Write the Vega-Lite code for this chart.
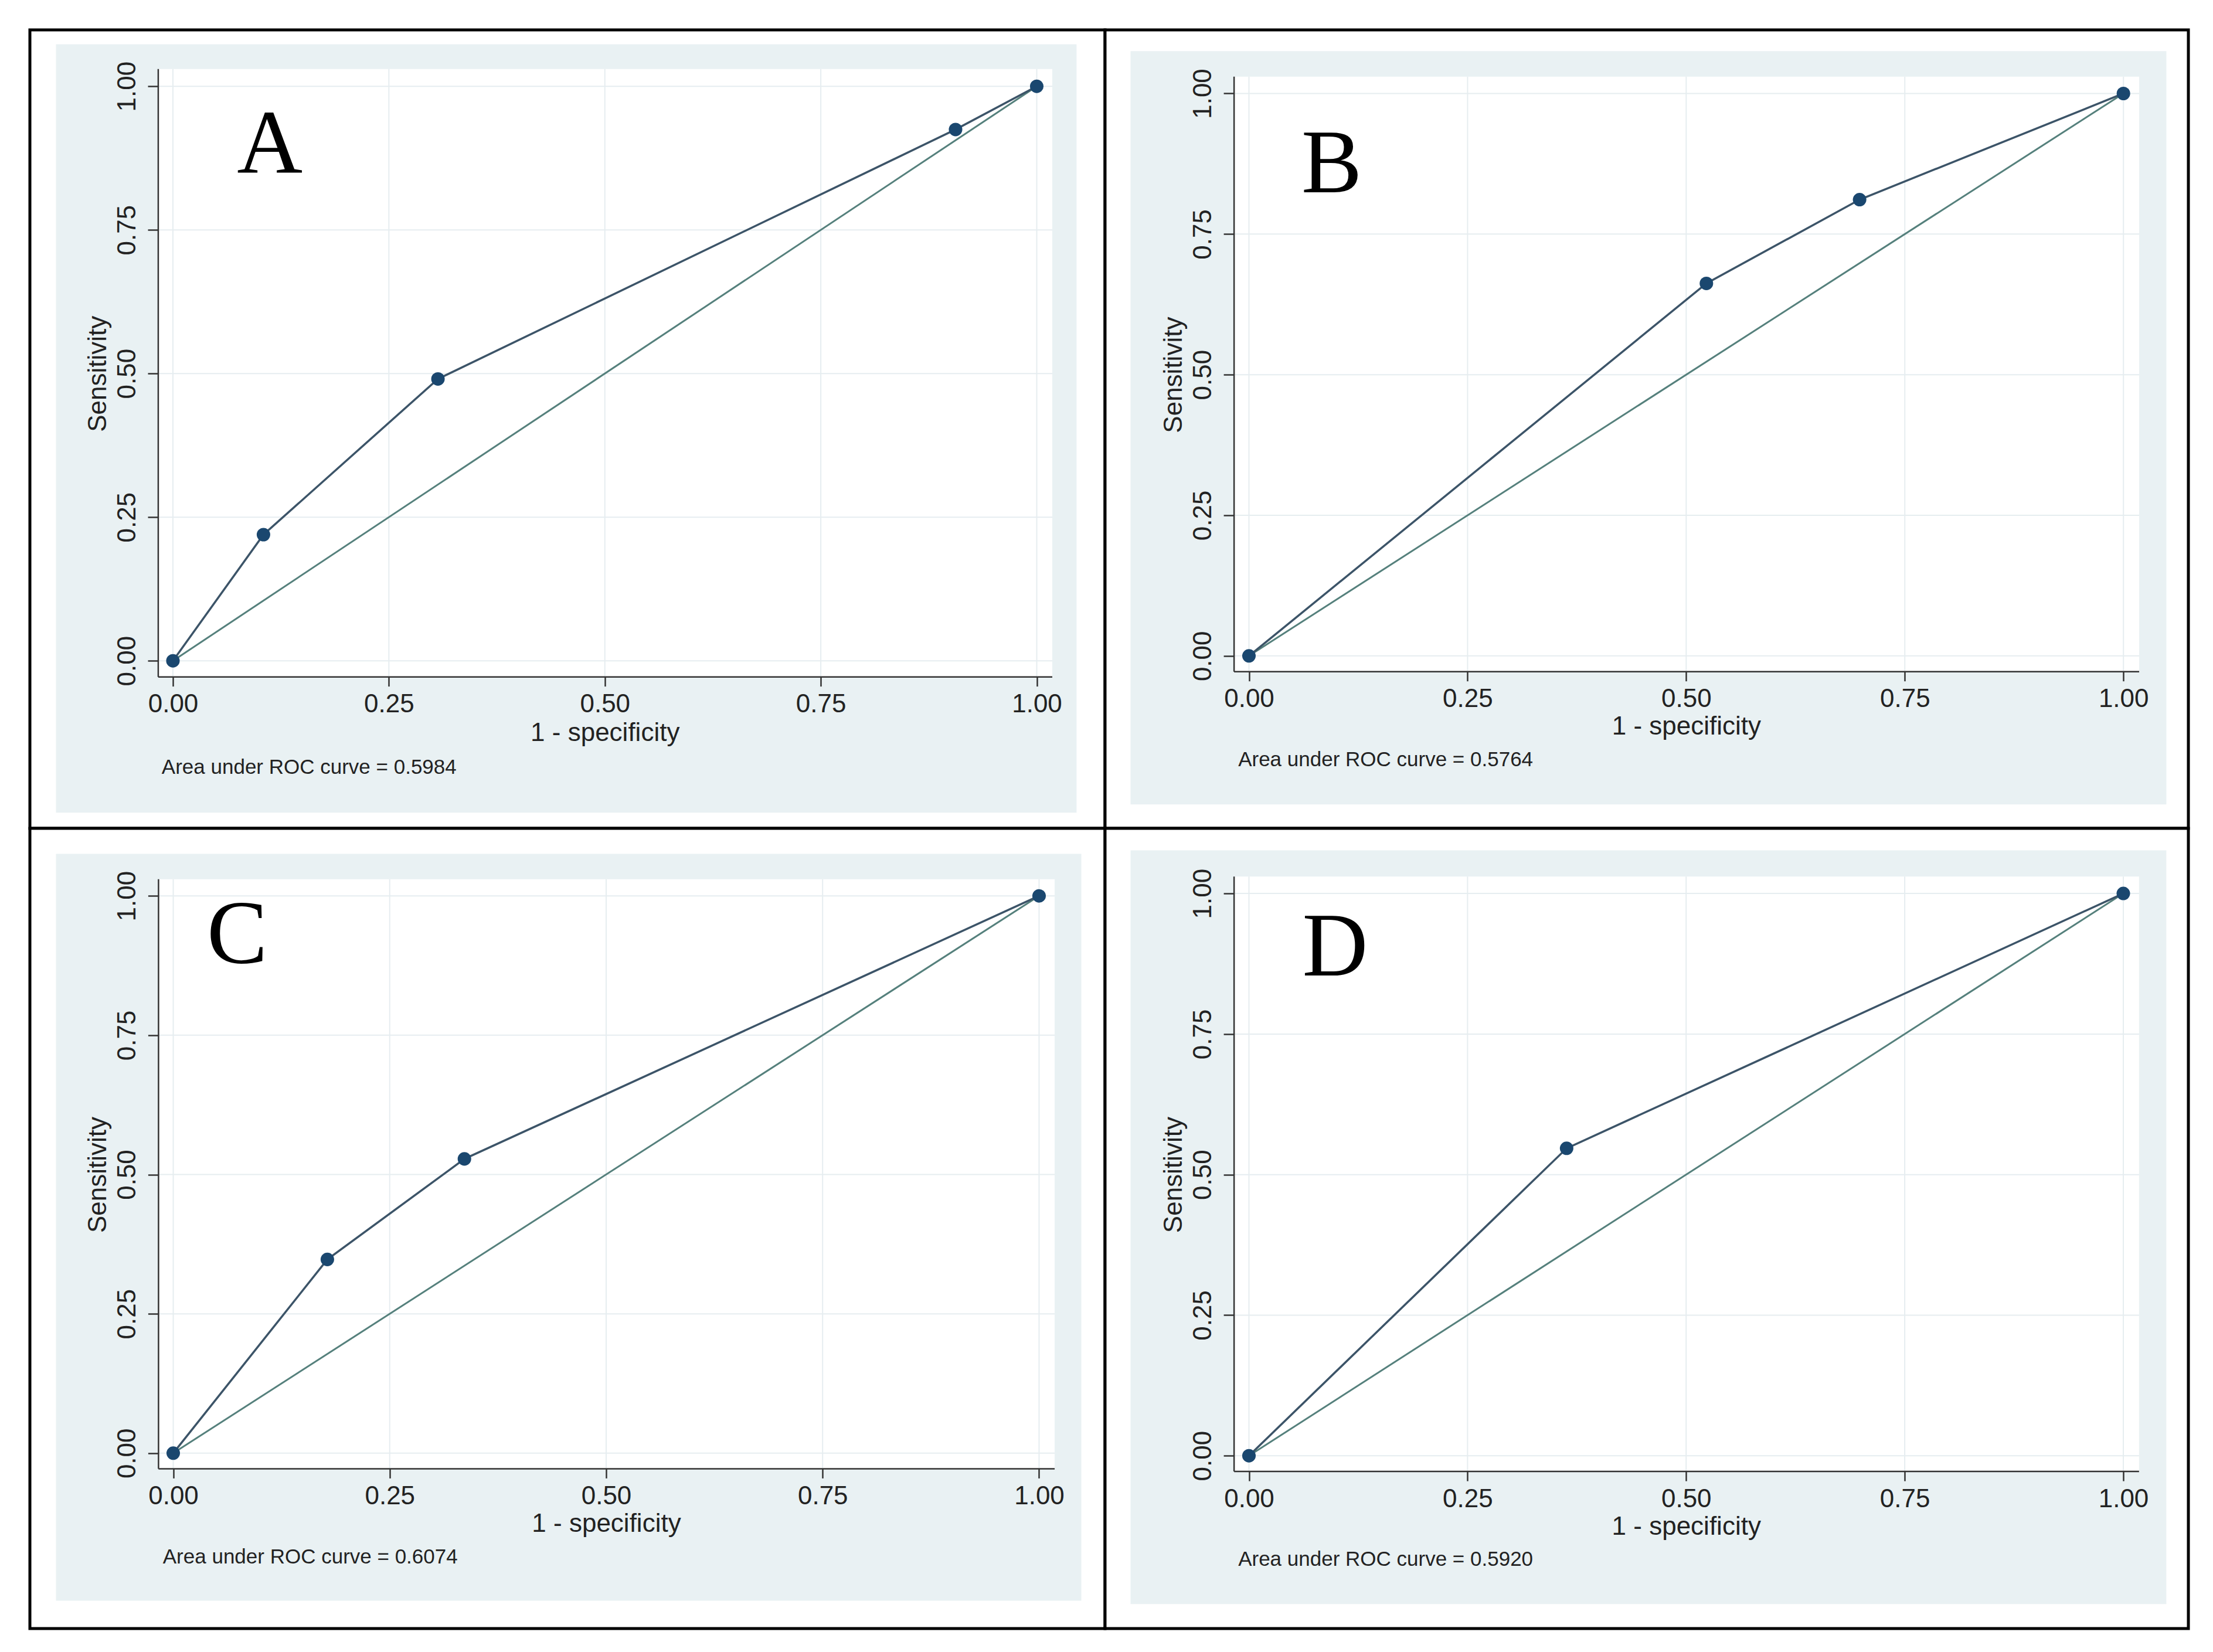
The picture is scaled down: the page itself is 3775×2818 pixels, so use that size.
{
  "$schema": "https://vega.github.io/schema/vega-lite/v6.json",
  "background": "white",
  "padding": {"left": 48, "top": 48, "right": 40, "bottom": 38},
  "columns": 2,
  "spacing": 0,
  "bounds": "flush",
  "align": "each",
  "config": {
    "view": {"stroke": "black", "strokeWidth": 5, "fill": "white"},
    "axis": {"domain": false, "grid": false, "ticks": true, "tickWidth": 2.5, "tickColor": "#333333", "labelFont": "Liberation Sans", "labelFontSize": 44, "labelColor": "#222222", "labelFlush": false, "labelOverlap": false, "titleFont": "Liberation Sans", "titleFontSize": 44, "titleFontWeight": "normal", "titleColor": "#222222", "zindex": 1}
  },
  "datasets": {
    "roc": [
      {"panel": "A", "x": 0, "y": 0},
      {"panel": "A", "x": 0.1048, "y": 0.2196},
      {"panel": "A", "x": 0.3068, "y": 0.4906},
      {"panel": "A", "x": 0.906, "y": 0.9248},
      {"panel": "A", "x": 1, "y": 1},
      {"panel": "B", "x": 0, "y": 0},
      {"panel": "B", "x": 0.5231, "y": 0.6623},
      {"panel": "B", "x": 0.6983, "y": 0.8113},
      {"panel": "B", "x": 1, "y": 1},
      {"panel": "C", "x": 0, "y": 0},
      {"panel": "C", "x": 0.178, "y": 0.3476},
      {"panel": "C", "x": 0.3363, "y": 0.528},
      {"panel": "C", "x": 1, "y": 1},
      {"panel": "D", "x": 0, "y": 0},
      {"panel": "D", "x": 0.3633, "y": 0.5467},
      {"panel": "D", "x": 1, "y": 1}
    ],
    "diag": [{"x": 0, "y": 0}, {"x": 1, "y": 1}],
    "grid": [{"v": 0}, {"v": 0.25}, {"v": 0.5}, {"v": 0.75}, {"v": 1}],
    "panels": [
      {"panel": "A", "letter": "A", "note": "Area under ROC curve = 0.5984"},
      {"panel": "B", "letter": "B", "note": "Area under ROC curve = 0.5764"},
      {"panel": "C", "letter": "C", "note": "Area under ROC curve = 0.6074"},
      {"panel": "D", "letter": "D", "note": "Area under ROC curve = 0.5920"}
    ]
  },
  "concat": [
    {
      "width": 1834, "height": 1362,
      "layer": [
        {"data": {"name": "roc"}, "transform": [{"filter": "datum.panel === 'A'"}], "mark": {"type": "line", "color": "#3C5468", "strokeWidth": 3.5, "opacity": 0},
         "encoding": {"x": {"field": "x", "type": "quantitative", "scale": {"domain": [-0.16559, 1.07906], "nice": false, "zero": false},
                            "axis": {"values": [0, 0.25, 0.5, 0.75, 1], "format": ".2f", "offset": -258.4, "zindex": 1, "tickSize": 16, "labelPadding": 9, "labelBaseline": "top", "labelAlign": "center", "labelAngle": 0, "title": "1 - specificity", "titleX": 980.75, "titleY": 109, "titleBaseline": "alphabetic", "titleAlign": "center", "titleAngle": 0}},
                      "y": {"field": "y", "type": "quantitative", "scale": {"domain": [-0.29163, 1.09816], "nice": false, "zero": false},
                            "axis": {"values": [0, 0.25, 0.5, 0.75, 1], "format": ".2f", "offset": -219, "zindex": 1, "tickSize": 18, "labelPadding": 22, "labelAngle": 270, "labelAlign": "center", "labelBaseline": "alphabetic", "title": "Sensitivity", "titleX": -90, "titleY": 586.2, "titleAngle": 270, "titleBaseline": "alphabetic", "titleAlign": "center"}}}},
        {"data": {"name": "panels"}, "transform": [{"filter": "datum.panel === 'A'"}], "mark": {"type": "rect", "fill": "#E9F1F3"},
         "encoding": {"x": {"datum": -0.1354, "type": "quantitative"}, "x2": {"datum": 1.0461}, "y": {"datum": -0.2643, "type": "quantitative"}, "y2": {"datum": 1.0732}}},
        {"data": {"name": "panels"}, "transform": [{"filter": "datum.panel === 'A'"}], "mark": {"type": "rect", "fill": "#FFFFFF"},
         "encoding": {"x": {"datum": -0.017, "type": "quantitative"}, "x2": {"datum": 1.018}, "y": {"datum": -0.028, "type": "quantitative"}, "y2": {"datum": 1.03}}},
        {"data": {"name": "grid"}, "mark": {"type": "rule", "color": "#E6EDF0", "strokeWidth": 2},
         "encoding": {"x": {"field": "v", "type": "quantitative"}, "y": {"datum": -0.028, "type": "quantitative"}, "y2": {"datum": 1.03}}},
        {"data": {"name": "grid"}, "mark": {"type": "rule", "color": "#E6EDF0", "strokeWidth": 2},
         "encoding": {"y": {"field": "v", "type": "quantitative"}, "x": {"datum": -0.017, "type": "quantitative"}, "x2": {"datum": 1.018}}},
        {"data": {"name": "panels"}, "transform": [{"filter": "datum.panel === 'A'"}], "mark": {"type": "rule", "color": "#333333", "strokeWidth": 2.5},
         "encoding": {"x": {"datum": -0.017, "type": "quantitative"}, "y": {"datum": -0.028, "type": "quantitative"}, "y2": {"datum": 1.03}}},
        {"data": {"name": "panels"}, "transform": [{"filter": "datum.panel === 'A'"}], "mark": {"type": "rule", "color": "#333333", "strokeWidth": 2.5},
         "encoding": {"y": {"datum": -0.028, "type": "quantitative"}, "x": {"datum": -0.017, "type": "quantitative"}, "x2": {"datum": 1.018}}},
        {"data": {"name": "diag"}, "mark": {"type": "line", "color": "#55807C", "strokeWidth": 3},
         "encoding": {"x": {"field": "x", "type": "quantitative"}, "y": {"field": "y", "type": "quantitative"}}},
        {"data": {"name": "roc"}, "transform": [{"filter": "datum.panel === 'A'"}], "mark": {"type": "line", "color": "#3C5468", "strokeWidth": 3.5},
         "encoding": {"x": {"field": "x", "type": "quantitative"}, "y": {"field": "y", "type": "quantitative"}, "order": {"field": "x"}}},
        {"data": {"name": "roc"}, "transform": [{"filter": "datum.panel === 'A'"}], "mark": {"type": "point", "shape": "circle", "filled": true, "size": 530, "color": "#1A476F", "opacity": 1},
         "encoding": {"x": {"field": "x", "type": "quantitative"}, "y": {"field": "y", "type": "quantitative"}}},
        {"data": {"name": "panels"}, "transform": [{"filter": "datum.panel === 'A'"}], "mark": {"type": "text", "font": "Liberation Serif", "fontSize": 155, "align": "left", "baseline": "alphabetic", "color": "#000000"},
         "encoding": {"text": {"field": "letter"}, "x": {"datum": 0.0742, "type": "quantitative"}, "y": {"datum": 0.8497, "type": "quantitative"}}},
        {"data": {"name": "panels"}, "transform": [{"filter": "datum.panel === 'A'"}], "mark": {"type": "text", "font": "Liberation Sans", "fontSize": 35, "align": "left", "baseline": "alphabetic", "color": "#222222"},
         "encoding": {"text": {"field": "note"}, "x": {"datum": -0.013, "type": "quantitative"}, "y": {"datum": -0.197, "type": "quantitative"}}}
      ]
    },
    {
      "width": 1848, "height": 1362,
      "layer": [
        {"data": {"name": "roc"}, "transform": [{"filter": "datum.panel === 'B'"}], "mark": {"type": "line", "color": "#3C5468", "strokeWidth": 3.5, "opacity": 0},
         "encoding": {"x": {"field": "x", "type": "quantitative", "scale": {"domain": [-0.16458, 1.07428], "nice": false, "zero": false},
                            "axis": {"values": [0, 0.25, 0.5, 0.75, 1], "format": ".2f", "offset": -267.3, "zindex": 1, "tickSize": 16, "labelPadding": 9, "labelBaseline": "top", "labelAlign": "center", "labelAngle": 0, "title": "1 - specificity", "titleX": 991.35, "titleY": 107, "titleBaseline": "alphabetic", "titleAlign": "center", "titleAngle": 0}},
                      "y": {"field": "y", "type": "quantitative", "scale": {"domain": [-0.30668, 1.1131], "nice": false, "zero": false},
                            "axis": {"values": [0, 0.25, 0.5, 0.75, 1], "format": ".2f", "offset": -220.1, "zindex": 1, "tickSize": 18, "labelPadding": 22, "labelAngle": 270, "labelAlign": "center", "labelBaseline": "alphabetic", "title": "Sensitivity", "titleX": -90, "titleY": 588.15, "titleAngle": 270, "titleBaseline": "alphabetic", "titleAlign": "center"}}}},
        {"data": {"name": "panels"}, "transform": [{"filter": "datum.panel === 'B'"}], "mark": {"type": "rect", "fill": "#E9F1F3"},
         "encoding": {"x": {"datum": -0.1354, "type": "quantitative"}, "x2": {"datum": 1.0491}, "y": {"datum": -0.2642, "type": "quantitative"}, "y2": {"datum": 1.0754}}},
        {"data": {"name": "panels"}, "transform": [{"filter": "datum.panel === 'B'"}], "mark": {"type": "rect", "fill": "#FFFFFF"},
         "encoding": {"x": {"datum": -0.017, "type": "quantitative"}, "x2": {"datum": 1.018}, "y": {"datum": -0.028, "type": "quantitative"}, "y2": {"datum": 1.03}}},
        {"data": {"name": "grid"}, "mark": {"type": "rule", "color": "#E6EDF0", "strokeWidth": 2},
         "encoding": {"x": {"field": "v", "type": "quantitative"}, "y": {"datum": -0.028, "type": "quantitative"}, "y2": {"datum": 1.03}}},
        {"data": {"name": "grid"}, "mark": {"type": "rule", "color": "#E6EDF0", "strokeWidth": 2},
         "encoding": {"y": {"field": "v", "type": "quantitative"}, "x": {"datum": -0.017, "type": "quantitative"}, "x2": {"datum": 1.018}}},
        {"data": {"name": "panels"}, "transform": [{"filter": "datum.panel === 'B'"}], "mark": {"type": "rule", "color": "#333333", "strokeWidth": 2.5},
         "encoding": {"x": {"datum": -0.017, "type": "quantitative"}, "y": {"datum": -0.028, "type": "quantitative"}, "y2": {"datum": 1.03}}},
        {"data": {"name": "panels"}, "transform": [{"filter": "datum.panel === 'B'"}], "mark": {"type": "rule", "color": "#333333", "strokeWidth": 2.5},
         "encoding": {"y": {"datum": -0.028, "type": "quantitative"}, "x": {"datum": -0.017, "type": "quantitative"}, "x2": {"datum": 1.018}}},
        {"data": {"name": "diag"}, "mark": {"type": "line", "color": "#55807C", "strokeWidth": 3},
         "encoding": {"x": {"field": "x", "type": "quantitative"}, "y": {"field": "y", "type": "quantitative"}}},
        {"data": {"name": "roc"}, "transform": [{"filter": "datum.panel === 'B'"}], "mark": {"type": "line", "color": "#3C5468", "strokeWidth": 3.5},
         "encoding": {"x": {"field": "x", "type": "quantitative"}, "y": {"field": "y", "type": "quantitative"}, "order": {"field": "x"}}},
        {"data": {"name": "roc"}, "transform": [{"filter": "datum.panel === 'B'"}], "mark": {"type": "point", "shape": "circle", "filled": true, "size": 530, "color": "#1A476F", "opacity": 1},
         "encoding": {"x": {"field": "x", "type": "quantitative"}, "y": {"field": "y", "type": "quantitative"}}},
        {"data": {"name": "panels"}, "transform": [{"filter": "datum.panel === 'B'"}], "mark": {"type": "text", "font": "Liberation Serif", "fontSize": 155, "align": "left", "baseline": "alphabetic", "color": "#000000"},
         "encoding": {"text": {"field": "letter"}, "x": {"datum": 0.06, "type": "quantitative"}, "y": {"datum": 0.8245, "type": "quantitative"}}},
        {"data": {"name": "panels"}, "transform": [{"filter": "datum.panel === 'B'"}], "mark": {"type": "text", "font": "Liberation Sans", "fontSize": 35, "align": "left", "baseline": "alphabetic", "color": "#222222"},
         "encoding": {"text": {"field": "note"}, "x": {"datum": -0.0123, "type": "quantitative"}, "y": {"datum": -0.1964, "type": "quantitative"}}}
      ]
    },
    {
      "width": 1834, "height": 1365,
      "layer": [
        {"data": {"name": "roc"}, "transform": [{"filter": "datum.panel === 'C'"}], "mark": {"type": "line", "color": "#3C5468", "strokeWidth": 3.5, "opacity": 0},
         "encoding": {"x": {"field": "x", "type": "quantitative", "scale": {"domain": [-0.16554, 1.07617], "nice": false, "zero": false},
                            "axis": {"values": [0, 0.25, 0.5, 0.75, 1], "format": ".2f", "offset": -272.6, "zindex": 1, "tickSize": 16, "labelPadding": 9, "labelBaseline": "top", "labelAlign": "center", "labelAngle": 0, "title": "1 - specificity", "titleX": 983, "titleY": 107, "titleBaseline": "alphabetic", "titleAlign": "center", "titleAngle": 0}},
                      "y": {"field": "y", "type": "quantitative", "scale": {"domain": [-0.31475, 1.12119], "nice": false, "zero": false},
                            "axis": {"values": [0, 0.25, 0.5, 0.75, 1], "format": ".2f", "offset": -219.4, "zindex": 1, "tickSize": 18, "labelPadding": 22, "labelAngle": 270, "labelAlign": "center", "labelBaseline": "alphabetic", "title": "Sensitivity", "titleX": -90, "titleY": 590.5, "titleAngle": 270, "titleBaseline": "alphabetic", "titleAlign": "center"}}}},
        {"data": {"name": "panels"}, "transform": [{"filter": "datum.panel === 'C'"}], "mark": {"type": "rect", "fill": "#E9F1F3"},
         "encoding": {"x": {"datum": -0.1354, "type": "quantitative"}, "x2": {"datum": 1.0488}, "y": {"datum": -0.2648, "type": "quantitative"}, "y2": {"datum": 1.0754}}},
        {"data": {"name": "panels"}, "transform": [{"filter": "datum.panel === 'C'"}], "mark": {"type": "rect", "fill": "#FFFFFF"},
         "encoding": {"x": {"datum": -0.017, "type": "quantitative"}, "x2": {"datum": 1.018}, "y": {"datum": -0.028, "type": "quantitative"}, "y2": {"datum": 1.03}}},
        {"data": {"name": "grid"}, "mark": {"type": "rule", "color": "#E6EDF0", "strokeWidth": 2},
         "encoding": {"x": {"field": "v", "type": "quantitative"}, "y": {"datum": -0.028, "type": "quantitative"}, "y2": {"datum": 1.03}}},
        {"data": {"name": "grid"}, "mark": {"type": "rule", "color": "#E6EDF0", "strokeWidth": 2},
         "encoding": {"y": {"field": "v", "type": "quantitative"}, "x": {"datum": -0.017, "type": "quantitative"}, "x2": {"datum": 1.018}}},
        {"data": {"name": "panels"}, "transform": [{"filter": "datum.panel === 'C'"}], "mark": {"type": "rule", "color": "#333333", "strokeWidth": 2.5},
         "encoding": {"x": {"datum": -0.017, "type": "quantitative"}, "y": {"datum": -0.028, "type": "quantitative"}, "y2": {"datum": 1.03}}},
        {"data": {"name": "panels"}, "transform": [{"filter": "datum.panel === 'C'"}], "mark": {"type": "rule", "color": "#333333", "strokeWidth": 2.5},
         "encoding": {"y": {"datum": -0.028, "type": "quantitative"}, "x": {"datum": -0.017, "type": "quantitative"}, "x2": {"datum": 1.018}}},
        {"data": {"name": "diag"}, "mark": {"type": "line", "color": "#55807C", "strokeWidth": 3},
         "encoding": {"x": {"field": "x", "type": "quantitative"}, "y": {"field": "y", "type": "quantitative"}}},
        {"data": {"name": "roc"}, "transform": [{"filter": "datum.panel === 'C'"}], "mark": {"type": "line", "color": "#3C5468", "strokeWidth": 3.5},
         "encoding": {"x": {"field": "x", "type": "quantitative"}, "y": {"field": "y", "type": "quantitative"}, "order": {"field": "x"}}},
        {"data": {"name": "roc"}, "transform": [{"filter": "datum.panel === 'C'"}], "mark": {"type": "point", "shape": "circle", "filled": true, "size": 530, "color": "#1A476F", "opacity": 1},
         "encoding": {"x": {"field": "x", "type": "quantitative"}, "y": {"field": "y", "type": "quantitative"}}},
        {"data": {"name": "panels"}, "transform": [{"filter": "datum.panel === 'C'"}], "mark": {"type": "text", "font": "Liberation Serif", "fontSize": 155, "align": "left", "baseline": "alphabetic", "color": "#000000"},
         "encoding": {"text": {"field": "letter"}, "x": {"datum": 0.039, "type": "quantitative"}, "y": {"datum": 0.8808, "type": "quantitative"}}},
        {"data": {"name": "panels"}, "transform": [{"filter": "datum.panel === 'C'"}], "mark": {"type": "text", "font": "Liberation Sans", "fontSize": 35, "align": "left", "baseline": "alphabetic", "color": "#222222"},
         "encoding": {"text": {"field": "note"}, "x": {"datum": -0.012, "type": "quantitative"}, "y": {"datum": -0.1982, "type": "quantitative"}}}
      ]
    },
    {
      "width": 1848, "height": 1365,
      "layer": [
        {"data": {"name": "roc"}, "transform": [{"filter": "datum.panel === 'D'"}], "mark": {"type": "line", "color": "#3C5468", "strokeWidth": 3.5, "opacity": 0},
         "encoding": {"x": {"field": "x", "type": "quantitative", "scale": {"domain": [-0.1646, 1.07442], "nice": false, "zero": false},
                            "axis": {"values": [0, 0.25, 0.5, 0.75, 1], "format": ".2f", "offset": -267.9, "zindex": 1, "tickSize": 16, "labelPadding": 9, "labelBaseline": "top", "labelAlign": "center", "labelAngle": 0, "title": "1 - specificity", "titleX": 991.25, "titleY": 107, "titleBaseline": "alphabetic", "titleAlign": "center", "titleAngle": 0}},
                      "y": {"field": "y", "type": "quantitative", "scale": {"domain": [-0.30737, 1.11584], "nice": false, "zero": false},
                            "axis": {"values": [0, 0.25, 0.5, 0.75, 1], "format": ".2f", "offset": -220.1, "zindex": 1, "tickSize": 18, "labelPadding": 22, "labelAngle": 270, "labelAlign": "center", "labelBaseline": "alphabetic", "title": "Sensitivity", "titleX": -90, "titleY": 590.65, "titleAngle": 270, "titleBaseline": "alphabetic", "titleAlign": "center"}}}},
        {"data": {"name": "panels"}, "transform": [{"filter": "datum.panel === 'D'"}], "mark": {"type": "rect", "fill": "#E9F1F3"},
         "encoding": {"x": {"datum": -0.1354, "type": "quantitative"}, "x2": {"datum": 1.0492}, "y": {"datum": -0.2638, "type": "quantitative"}, "y2": {"datum": 1.0767}}},
        {"data": {"name": "panels"}, "transform": [{"filter": "datum.panel === 'D'"}], "mark": {"type": "rect", "fill": "#FFFFFF"},
         "encoding": {"x": {"datum": -0.017, "type": "quantitative"}, "x2": {"datum": 1.018}, "y": {"datum": -0.028, "type": "quantitative"}, "y2": {"datum": 1.03}}},
        {"data": {"name": "grid"}, "mark": {"type": "rule", "color": "#E6EDF0", "strokeWidth": 2},
         "encoding": {"x": {"field": "v", "type": "quantitative"}, "y": {"datum": -0.028, "type": "quantitative"}, "y2": {"datum": 1.03}}},
        {"data": {"name": "grid"}, "mark": {"type": "rule", "color": "#E6EDF0", "strokeWidth": 2},
         "encoding": {"y": {"field": "v", "type": "quantitative"}, "x": {"datum": -0.017, "type": "quantitative"}, "x2": {"datum": 1.018}}},
        {"data": {"name": "panels"}, "transform": [{"filter": "datum.panel === 'D'"}], "mark": {"type": "rule", "color": "#333333", "strokeWidth": 2.5},
         "encoding": {"x": {"datum": -0.017, "type": "quantitative"}, "y": {"datum": -0.028, "type": "quantitative"}, "y2": {"datum": 1.03}}},
        {"data": {"name": "panels"}, "transform": [{"filter": "datum.panel === 'D'"}], "mark": {"type": "rule", "color": "#333333", "strokeWidth": 2.5},
         "encoding": {"y": {"datum": -0.028, "type": "quantitative"}, "x": {"datum": -0.017, "type": "quantitative"}, "x2": {"datum": 1.018}}},
        {"data": {"name": "diag"}, "mark": {"type": "line", "color": "#55807C", "strokeWidth": 3},
         "encoding": {"x": {"field": "x", "type": "quantitative"}, "y": {"field": "y", "type": "quantitative"}}},
        {"data": {"name": "roc"}, "transform": [{"filter": "datum.panel === 'D'"}], "mark": {"type": "line", "color": "#3C5468", "strokeWidth": 3.5},
         "encoding": {"x": {"field": "x", "type": "quantitative"}, "y": {"field": "y", "type": "quantitative"}, "order": {"field": "x"}}},
        {"data": {"name": "roc"}, "transform": [{"filter": "datum.panel === 'D'"}], "mark": {"type": "point", "shape": "circle", "filled": true, "size": 530, "color": "#1A476F", "opacity": 1},
         "encoding": {"x": {"field": "x", "type": "quantitative"}, "y": {"field": "y", "type": "quantitative"}}},
        {"data": {"name": "panels"}, "transform": [{"filter": "datum.panel === 'D'"}], "mark": {"type": "text", "font": "Liberation Serif", "fontSize": 155, "align": "left", "baseline": "alphabetic", "color": "#000000"},
         "encoding": {"text": {"field": "letter"}, "x": {"datum": 0.061, "type": "quantitative"}, "y": {"datum": 0.854, "type": "quantitative"}}},
        {"data": {"name": "panels"}, "transform": [{"filter": "datum.panel === 'D'"}], "mark": {"type": "text", "font": "Liberation Sans", "fontSize": 35, "align": "left", "baseline": "alphabetic", "color": "#222222"},
         "encoding": {"text": {"field": "note"}, "x": {"datum": -0.0123, "type": "quantitative"}, "y": {"datum": -0.196, "type": "quantitative"}}}
      ]
    }
  ]
}
